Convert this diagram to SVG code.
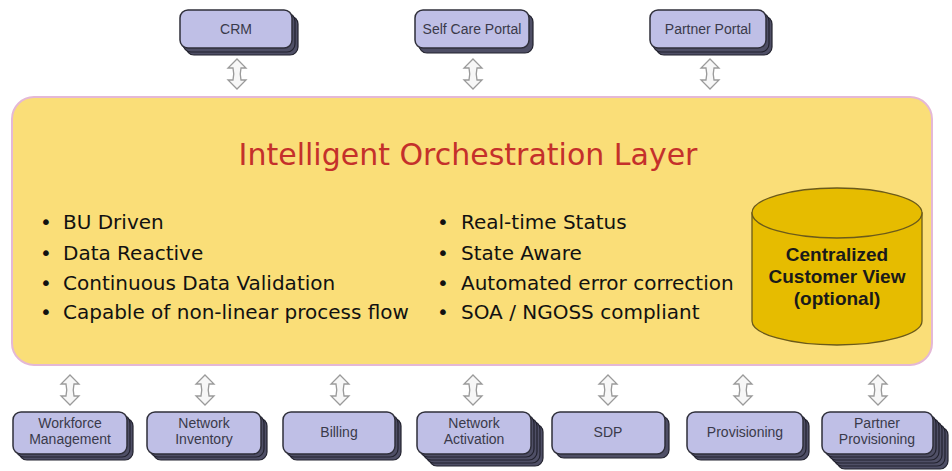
<svg xmlns="http://www.w3.org/2000/svg" width="952" height="471" viewBox="0 0 952 471">
<defs>
<style>
.face{fill:#BFBFE6;stroke:#2f2f3a;stroke-width:1.5}
.layer{fill:#4f4f66;stroke:#22222e;stroke-width:1.2}
.lbl{font-family:"Liberation Sans",Arial,sans-serif;font-size:14px;fill:#3a3a4a;text-anchor:middle}
.arr{fill:#f7f7f7;stroke:#9a9a9a;stroke-width:1.3}
.bul{font-family:"DejaVu Sans",Verdana,sans-serif;font-size:20px;fill:#111}
.cyl{fill:#E6BC00;stroke:#6b5a1a;stroke-width:1.3}
.cyltxt{font-family:"Liberation Sans",Arial,sans-serif;font-size:19px;font-weight:bold;fill:#1a1a1a;text-anchor:middle}
</style>
<path id="dbl" class="arr" d="M0,-15 L9,-6 L4,-6 Q2.5,0 4,6 L9,6 L0,15 L-9,6 L-4,6 Q-2.5,0 -4,-6 L-9,-6 Z"/>
</defs>
<rect width="952" height="471" fill="#ffffff"/>

<g id="orchestration">
<rect x="12" y="97" width="920" height="268" rx="22" fill="#FADE78" stroke="#E4B8D6" stroke-width="2"/>
<text x="468" y="165" font-family="DejaVu Sans,Verdana,sans-serif" font-size="30" fill="#C4302B" text-anchor="middle">Intelligent Orchestration Layer</text>
<g class="bul">
<text x="40" y="229">•</text><text x="63" y="229">BU Driven</text>
<text x="40" y="260">•</text><text x="63" y="260">Data Reactive</text>
<text x="40" y="290">•</text><text x="63" y="290">Continuous Data Validation</text>
<text x="40" y="319">•</text><text x="63" y="319">Capable of non-linear process flow</text>
<text x="437" y="229">•</text><text x="461" y="229">Real-time Status</text>
<text x="437" y="260">•</text><text x="461" y="260">State Aware</text>
<text x="437" y="290">•</text><text x="461" y="290">Automated error correction</text>
<text x="437" y="319">•</text><text x="461" y="319">SOA / NGOSS compliant</text>
</g>
</g>

<g id="customer-view">
<path class="cyl" d="M752,213 L752,321 A85,24 0 0 0 922,321 L922,213 Z"/>
<ellipse class="cyl" cx="837" cy="213" rx="85" ry="25"/>
<text class="cyltxt" x="837" y="261">Centralized</text>
<text class="cyltxt" x="837" y="283">Customer View</text>
<text class="cyltxt" x="837" y="305">(optional)</text>
</g>

<g id="connectors">
<use href="#dbl" x="237" y="74"/>
<use href="#dbl" x="473" y="74"/>
<use href="#dbl" x="710" y="74"/>
<use href="#dbl" x="70" y="390"/>
<use href="#dbl" x="205" y="390"/>
<use href="#dbl" x="340" y="390"/>
<use href="#dbl" x="473" y="390"/>
<use href="#dbl" x="608" y="390"/>
<use href="#dbl" x="743" y="390"/>
<use href="#dbl" x="878" y="390"/>
</g>

<g id="crm">
<rect class="layer" x="186" y="16" width="112" height="39" rx="8"/>
<rect class="layer" x="183" y="13" width="112" height="39" rx="8"/>
<rect class="face" x="180" y="10" width="112" height="38" rx="8"/>
<text class="lbl" x="236" y="34">CRM</text>
</g>
<g id="self-care-portal">
<rect class="layer" x="419" y="14" width="114" height="39" rx="8"/>
<rect class="face" x="415" y="10" width="114" height="38" rx="8"/>
<text class="lbl" x="472" y="34">Self Care Portal</text>
</g>
<g id="partner-portal">
<rect class="layer" x="656" y="16" width="116" height="39" rx="8"/>
<rect class="layer" x="653" y="13" width="116" height="39" rx="8"/>
<rect class="face" x="650" y="10" width="116" height="38" rx="8"/>
<text class="lbl" x="708" y="34">Partner Portal</text>
</g>

<g id="workforce-management">
<rect class="layer" x="19" y="418" width="114" height="42" rx="8"/>
<rect class="layer" x="16" y="415" width="114" height="42" rx="8"/>
<rect class="face" x="13" y="412" width="114" height="42" rx="8"/>
<text class="lbl" x="70" y="428">Workforce</text>
<text class="lbl" x="70" y="444">Management</text>
</g>
<g id="network-inventory">
<rect class="layer" x="153" y="418" width="114" height="42" rx="8"/>
<rect class="layer" x="150" y="415" width="114" height="42" rx="8"/>
<rect class="face" x="147" y="412" width="114" height="42" rx="8"/>
<text class="lbl" x="204" y="428">Network</text>
<text class="lbl" x="204" y="444">Inventory</text>
</g>
<g id="billing">
<rect class="layer" x="289" y="418" width="112" height="42" rx="8"/>
<rect class="layer" x="286" y="415" width="112" height="42" rx="8"/>
<rect class="face" x="283" y="412" width="112" height="42" rx="8"/>
<text class="lbl" x="339" y="437">Billing</text>
</g>
<g id="network-activation">
<rect class="layer" x="429" y="424" width="114" height="42" rx="8"/>
<rect class="layer" x="426" y="421" width="114" height="42" rx="8"/>
<rect class="layer" x="423" y="418" width="114" height="42" rx="8"/>
<rect class="layer" x="420" y="415" width="114" height="42" rx="8"/>
<rect class="face" x="417" y="412" width="114" height="42" rx="8"/>
<text class="lbl" x="474" y="428">Network</text>
<text class="lbl" x="474" y="444">Activation</text>
</g>
<g id="sdp">
<rect class="layer" x="556" y="416" width="113" height="42" rx="8"/>
<rect class="face" x="552" y="412" width="113" height="42" rx="8"/>
<text class="lbl" x="608" y="437">SDP</text>
</g>
<g id="provisioning">
<rect class="layer" x="693" y="418" width="116" height="42" rx="8"/>
<rect class="layer" x="690" y="415" width="116" height="42" rx="8"/>
<rect class="face" x="687" y="412" width="116" height="42" rx="8"/>
<text class="lbl" x="745" y="437">Provisioning</text>
</g>
<g id="partner-provisioning">
<rect class="layer" x="837" y="427" width="111" height="42" rx="8"/>
<rect class="layer" x="834" y="424" width="111" height="42" rx="8"/>
<rect class="layer" x="831" y="421" width="111" height="42" rx="8"/>
<rect class="layer" x="828" y="418" width="111" height="42" rx="8"/>
<rect class="layer" x="825" y="415" width="111" height="42" rx="8"/>
<rect class="face" x="822" y="412" width="111" height="42" rx="8"/>
<text class="lbl" x="877" y="428">Partner</text>
<text class="lbl" x="877" y="444">Provisioning</text>
</g>
</svg>
